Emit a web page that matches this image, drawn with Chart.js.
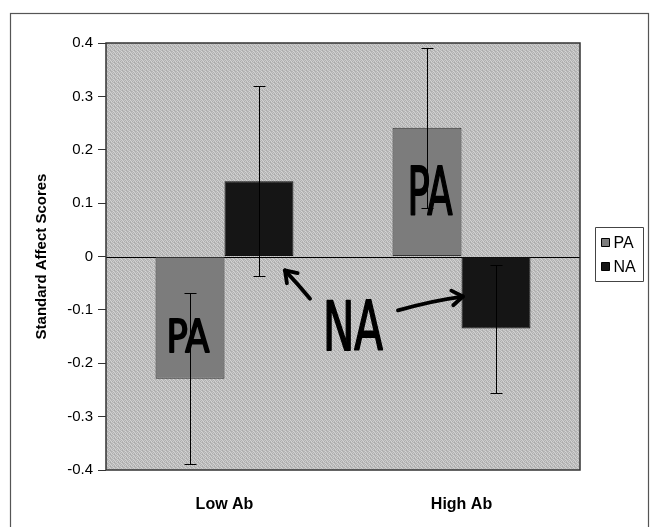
<!DOCTYPE html>
<html><head><meta charset="utf-8">
<script src="https://cdn.jsdelivr.net/npm/chart.js@4/dist/chart.umd.min.js"></script>
<style>html,body{margin:0;padding:0;background:#fff;}#wrap{width:653px;height:527px;position:relative;}</style>
</head><body><div id="wrap"><canvas id="c" width="653" height="527"></canvas></div>
<script>
// ---- data ----
const categories = ['Low Ab', 'High Ab'];
const seriesNames = ['PA', 'NA'];
const paValues = [-0.229, 0.241];
const naValues = [0.141, -0.135];
const paErrors = [0.16, 0.15];
const naErrors = [0.178, 0.12];
const yMin = -0.4, yMax = 0.4, yStep = 0.1;
const yTitle = 'Standard Affect Scores';

// handwritten notes: position in category units / value units
const notes = [
  {text: 'PA', cat: -0.154, val: -0.148, w: 43, h: 33},
  {text: 'PA', cat: 0.867, val: 0.124, w: 45, h: 48},
  {text: 'NA', cat: 0.542, val: -0.129, w: 60, h: 50}
];
const arrows = [
  {from: [0.361, -0.079], ctrl: [0.31, -0.052], to: [0.255, -0.026]},
  {from: [0.732, -0.101], ctrl: [0.87, -0.083], to: [1.006, -0.075]}
];

const colors = {pa: '#7c7c7c', na: '#151515'};

function makePattern(ctx, vals) {
  const c = document.createElement('canvas');
  c.width = 4; c.height = 4;
  const g = c.getContext('2d');
  for (let y = 0; y < 4; y++) for (let x = 0; x < 4; x++) {
    const v = vals[y][x];
    g.fillStyle = `rgb(${v},${v},${v})`;
    g.fillRect(x, y, 1, 1);
  }
  return ctx.createPattern(c, 'repeat');
}
const bgGrid = [[198,176,208,184],[172,204,180,212],[202,186,168,196],[182,214,192,174]];

function catPx(xs, c) {
  const p0 = xs.getPixelForValue(0), p1 = xs.getPixelForValue(1);
  return p0 + c * (p1 - p0);
}

const decor = {
  id: 'decor',
  beforeDraw(chart) {
    const {ctx, chartArea: a} = chart;
    ctx.save();
    ctx.fillStyle = '#fff';
    ctx.fillRect(0, 0, chart.width, chart.height);
    ctx.strokeStyle = '#555';
    ctx.lineWidth = 1.2;
    ctx.strokeRect(10.5, 13.5, 638, 620);
    ctx.fillStyle = makePattern(ctx, bgGrid);
    ctx.fillRect(a.left, a.top, a.right - a.left, a.bottom - a.top);
    ctx.restore();
  },
  beforeDatasetsDraw(chart) {
    const {ctx, chartArea: a, scales: {y}} = chart;
    const y0 = Math.round(y.getPixelForValue(0)) + 0.5;
    ctx.save();
    ctx.strokeStyle = '#000'; ctx.lineWidth = 1;
    ctx.beginPath(); ctx.moveTo(a.left, y0); ctx.lineTo(a.right, y0); ctx.stroke();
    ctx.restore();
  },
  afterDatasetsDraw(chart) {
    const {ctx, chartArea: a, scales: {x, y}} = chart;
    const errs = [paErrors, naErrors];
    ctx.save();
    // error bars
    ctx.strokeStyle = '#000'; ctx.lineWidth = 1;
    chart.data.datasets.forEach((ds, di) => {
      const meta = chart.getDatasetMeta(di);
      meta.data.forEach((bar, i) => {
        const v = ds.data[i], e = errs[di][i];
        const xp = Math.round(bar.x) + 0.5;
        const yt = Math.round(y.getPixelForValue(v + e)) + 0.5;
        const yb = Math.round(y.getPixelForValue(v - e)) + 0.5;
        ctx.beginPath();
        ctx.moveTo(xp, yt); ctx.lineTo(xp, yb);
        ctx.moveTo(xp - 6, yt); ctx.lineTo(xp + 6, yt);
        ctx.moveTo(xp - 6, yb); ctx.lineTo(xp + 6, yb);
        ctx.stroke();
      });
    });
    // plot border
    ctx.strokeStyle = '#333'; ctx.lineWidth = 1.5;
    ctx.strokeRect(a.left, a.top, a.right - a.left, a.bottom - a.top);
    // handwritten notes
    ctx.fillStyle = '#000'; ctx.strokeStyle = '#000';
    notes.forEach(n => {
      const cx = catPx(x, n.cat), cy = y.getPixelForValue(n.val);
      ctx.save();
      ctx.font = `${(n.h / 0.73).toFixed(1)}px 'DejaVu Sans Condensed', 'DejaVu Sans', sans-serif`;
      const m = ctx.measureText(n.text).width;
      ctx.translate(cx, cy + n.h / 2);
      ctx.scale(n.w / m, 1);
      ctx.textAlign = 'center'; ctx.textBaseline = 'alphabetic';
      ctx.lineWidth = 1.8; ctx.lineJoin = 'round';
      ctx.fillText(n.text, 0, 0);
      ctx.strokeText(n.text, 0, 0);
      ctx.restore();
    });
    ctx.strokeStyle = '#000'; ctx.lineWidth = 3.8; ctx.lineCap = 'round'; ctx.lineJoin = 'round';
    arrows.forEach(ar => {
      const fx = catPx(x, ar.from[0]), fy = y.getPixelForValue(ar.from[1]);
      const cx = catPx(x, ar.ctrl[0]), cy = y.getPixelForValue(ar.ctrl[1]);
      const tx = catPx(x, ar.to[0]), ty = y.getPixelForValue(ar.to[1]);
      ctx.beginPath(); ctx.moveTo(fx, fy); ctx.quadraticCurveTo(cx, cy, tx, ty); ctx.stroke();
      const ang = Math.atan2(ty - cy, tx - cx);
      ctx.beginPath();
      ctx.moveTo(tx - 13 * Math.cos(ang - 0.6), ty - 13 * Math.sin(ang - 0.6));
      ctx.lineTo(tx, ty);
      ctx.lineTo(tx - 13 * Math.cos(ang + 0.6), ty - 13 * Math.sin(ang + 0.6));
      ctx.stroke();
    });
    // legend
    const lw = 48, lh = 54;
    const lx = a.right + 15.5, ly = Math.round((a.top + a.bottom) / 2 - lh / 2 - 3) + 0.5;
    ctx.lineWidth = 1; ctx.strokeStyle = '#444'; ctx.lineCap = 'butt';
    ctx.fillStyle = '#fff';
    ctx.fillRect(lx, ly, lw, lh);
    ctx.strokeRect(lx, ly, lw, lh);
    const sw = [colors.pa, colors.na];
    ctx.font = "16px 'Liberation Sans', Arial, sans-serif";
    ctx.textBaseline = 'middle'; ctx.textAlign = 'left';
    seriesNames.forEach((nm, i) => {
      const iy = ly + 15 + i * 24;
      ctx.fillStyle = sw[i];
      ctx.fillRect(lx + 6, iy - 4, 8, 8);
      ctx.strokeStyle = '#000';
      ctx.strokeRect(lx + 6, iy - 4, 8, 8);
      ctx.fillStyle = '#000';
      ctx.fillText(nm, lx + 18, iy + 1);
    });
    ctx.restore();
  }
};

new Chart(document.getElementById('c'), {
  type: 'bar',
  data: {
    labels: categories,
    datasets: [
      {label: seriesNames[0], data: paValues, backgroundColor: colors.pa, borderColor: '#333', borderWidth: 1, borderSkipped: false},
      {label: seriesNames[1], data: naValues, backgroundColor: colors.na, borderColor: '#111', borderWidth: 1, borderSkipped: false}
    ]
  },
  options: {
    responsive: false,
    animation: false,
    devicePixelRatio: 1,
    layout: {padding: {top: 43, right: 73, bottom: 0, left: 0}},
    datasets: {bar: {categoryPercentage: 0.582, barPercentage: 1.0}},
    plugins: {legend: {display: false}, tooltip: {enabled: false}},
    scales: {
      x: {
        grid: {display: false},
        border: {display: false},
        ticks: {padding: 17, color: '#000', font: {family: "'Liberation Sans', Arial, sans-serif", size: 16, weight: 'bold'}},
        afterFit(s) { s.height = 57; }
      },
      y: {
        min: yMin, max: yMax,
        grid: {display: true, drawOnChartArea: false, drawTicks: true, tickLength: 8, color: '#333'},
        border: {display: false},
        ticks: {stepSize: yStep, padding: 5, color: '#000',
          font: {family: "'Liberation Sans', Arial, sans-serif", size: 15},
          callback: v => String(Number(v.toFixed(1)))},
        title: {display: true, text: yTitle, color: '#000', padding: {top: 33, bottom: 0},
          font: {family: "'Liberation Sans', Arial, sans-serif", size: 15, weight: 'bold'}},
        afterFit(s) { s.width = 106; }
      }
    }
  },
  plugins: [decor]
});
</script>
</body></html>
